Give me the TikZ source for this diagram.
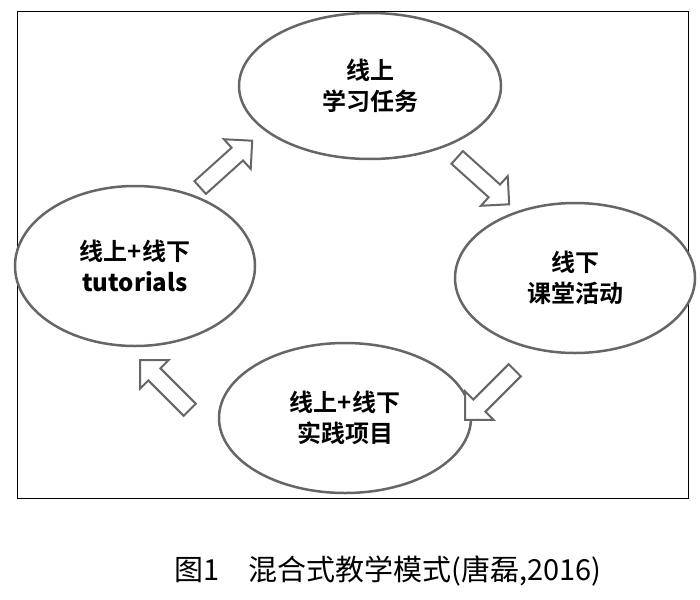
\documentclass[tikz,border=0pt]{standalone}
\usepackage{fontspec}
\setmainfont{Liberation Sans}
\newfontfamily\cjk{Noto Sans CJK SC}
\newfontfamily\cjkb{Noto Sans CJK SC Bold}
\usetikzlibrary{shapes.geometric,shapes.arrows}
\begin{document}
\begin{tikzpicture}[x=1pt,y=-1pt,
  ell/.style={ellipse,draw=gray!80!black,line width=2.5pt,fill=white,inner sep=0pt,align=center,font=\cjkb\fontsize{24}{31}\selectfont},
  barrow/.style={single arrow,draw=gray!80!black,line width=2pt,fill=white,minimum width=40pt,single arrow head extend=8pt,minimum height=70pt,inner sep=5pt}]
\useasboundingbox (0,0) rectangle (700,599);
\node[draw=black,line width=1pt,minimum width=671pt,minimum height=486pt,inner sep=0pt] (frame) at (352.5,255) {};
\node[ell,minimum width=262pt,minimum height=146pt] (top) at (370,86) {线上\\学习任务};
\node[ell,minimum width=240pt,minimum height=150pt] (right) at (575,278) {线下\\课堂活动};
\node[ell,minimum width=252pt,minimum height=150pt] (bottom) at (345,418) {线上+线下\\实践项目};
\node[ell,minimum width=240pt,minimum height=160pt] (left) at (135,266) {线上+线下\\\textbf{tutorials}};
\node[barrow,rotate=42] (a1) at (223,167) {};
\node[barrow,rotate=-42] (a2) at (480,178) {};
\node[barrow,rotate=-135] (a3) at (493,392) {};
\node[barrow,rotate=135] (a4) at (168,388) {};
\node[font=\cjk\fontsize{29}{34}\selectfont] (cap) at (388,571) {图1\quad 混合式教学模式(唐磊,2016)};
\end{tikzpicture}
\end{document}
